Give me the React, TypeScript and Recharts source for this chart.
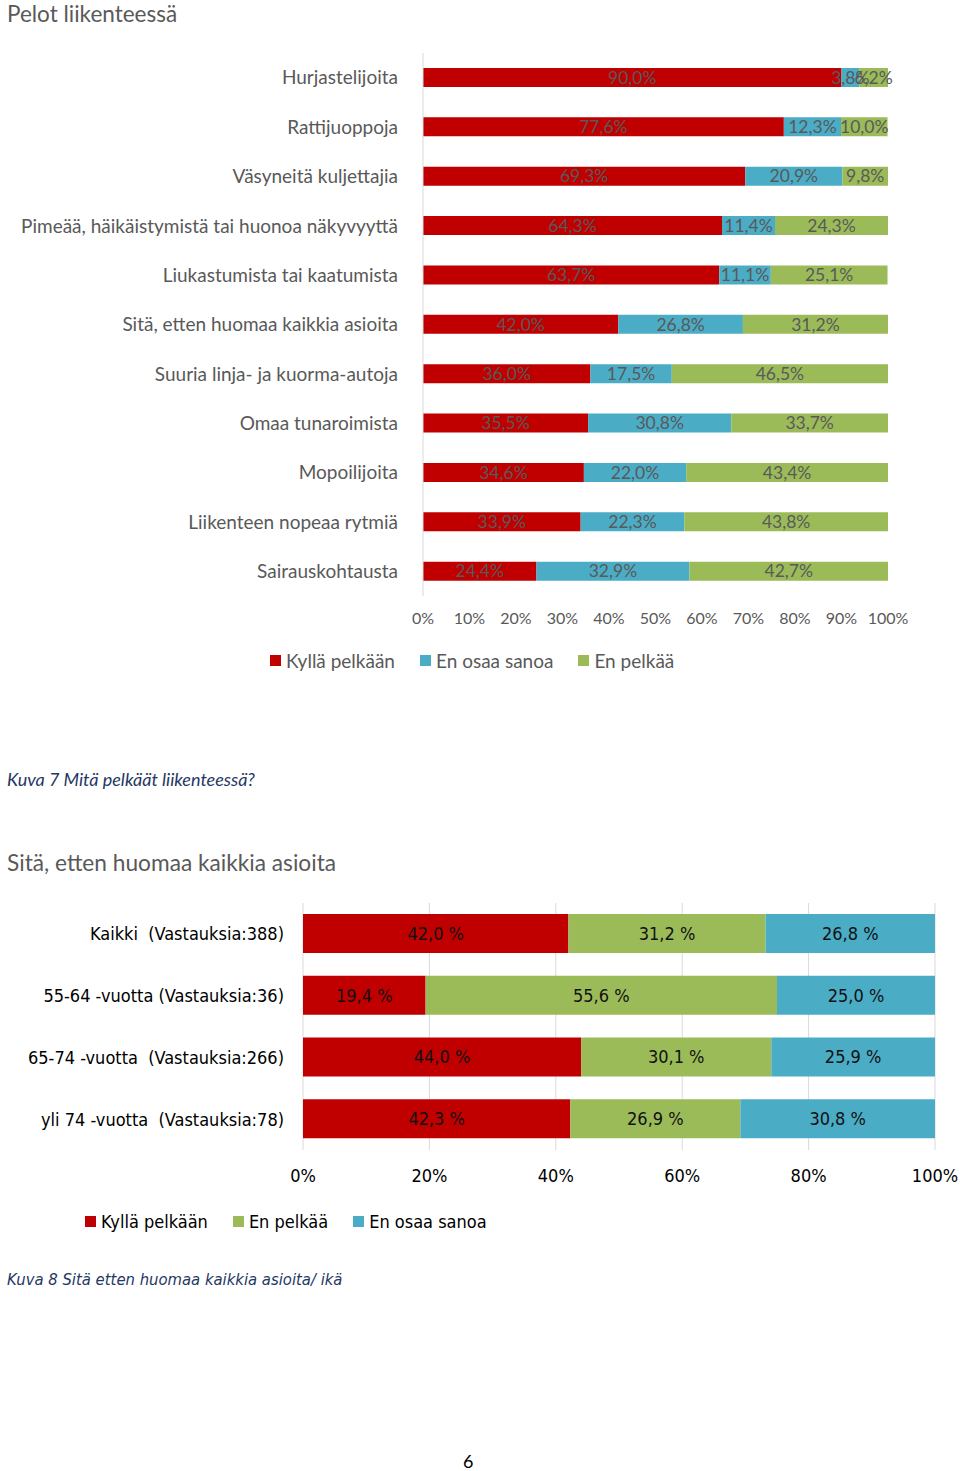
import React from 'react';
import { BarChart, Bar, XAxis, YAxis, CartesianGrid, LabelList, Legend } from 'recharts';

// ---- Chart 1 data: Pelot liikenteessä ----
const categories1 = [
  'Hurjastelijoita',
  'Rattijuoppoja',
  'Väsyneitä kuljettajia',
  'Pimeää, häikäistymistä tai huonoa näkyvyyttä',
  'Liukastumista tai kaatumista',
  'Sitä, etten huomaa kaikkia asioita',
  'Suuria linja- ja kuorma-autoja',
  'Omaa tunaroimista',
  'Mopoilijoita',
  'Liikenteen nopeaa rytmiä',
  'Sairauskohtausta',
];
const kylla1 = [90.0, 77.6, 69.3, 64.3, 63.7, 42.0, 36.0, 35.5, 34.6, 33.9, 24.4];
const enOsaa1 = [3.8, 12.3, 20.9, 11.4, 11.1, 26.8, 17.5, 30.8, 22.0, 22.3, 32.9];
const enPelkaa1 = [6.2, 10.0, 9.8, 24.3, 25.1, 31.2, 46.5, 33.7, 43.4, 43.8, 42.7];
const ticks1 = [0, 10, 20, 30, 40, 50, 60, 70, 80, 90, 100];

// ---- Chart 2 data: Sitä, etten huomaa kaikkia asioita / ikä ----
const categories2 = [
  'Kaikki\u00a0\u00a0(Vastauksia:388)',
  '55-64 -vuotta (Vastauksia:36)',
  '65-74 -vuotta\u00a0\u00a0(Vastauksia:266)',
  'yli 74 -vuotta\u00a0\u00a0(Vastauksia:78)',
];
const kylla2 = [42.0, 19.4, 44.0, 42.3];
const enPelkaa2 = [31.2, 55.6, 30.1, 26.9];
const enOsaa2 = [26.8, 25.0, 25.9, 30.8];
const ticks2 = [0, 20, 40, 60, 80, 100];

const seriesNames = { kylla: 'Kyllä pelkään', enOsaa: 'En osaa sanoa', enPelkaa: 'En pelkää' };

const data1 = categories1.map((name, i) => ({
  name,
  kylla: kylla1[i],
  enOsaa: enOsaa1[i],
  enPelkaa: enPelkaa1[i],
}));
const data2 = categories2.map((name, i) => ({
  name,
  kylla: kylla2[i],
  enPelkaa: enPelkaa2[i],
  enOsaa: enOsaa2[i],
}));

const RED = '#C00000';
const BLUE = '#4BACC6';
const GREEN = '#9BBB59';
const GRAY = '#595959';

const F1 = 'Lato, "Open Sans", sans-serif';
const F2 = '"Liberation Sans Narrow", "DejaVu Sans Condensed", Lato, sans-serif';

const fmt1 = (v: any) => Number(v).toFixed(1).replace('.', ',') + '%';
const fmt2 = (v: any) => Number(v).toFixed(1).replace('.', ',') + ' %';

const makeLegend = (fontFamily: string, fontSize: number, color: string, gap: number) => (props: any) => {
  const payload = props.payload || [];
  return (
    <div style={{ display: 'flex', alignItems: 'center', fontFamily, fontSize, color, whiteSpace: 'nowrap' }}>
      {payload.map((p: any) => (
        <div key={p.value} style={{ display: 'flex', alignItems: 'center', marginRight: gap }}>
          <span style={{ display: 'inline-block', width: 11, height: 11, background: p.color, marginRight: 5 }} />
          <span>{p.value}</span>
        </div>
      ))}
    </div>
  );
};

export default function App() {
  return (
    <div style={{ position: 'absolute', left: 0, top: 0, width: 960, height: 1471, background: '#fff', overflow: 'hidden' }}>
      <div style={{ position: 'absolute', left: 7, top: 0, fontFamily: F1, fontSize: 22.5, color: GRAY, lineHeight: '28px' }}>
        Pelot liikenteessä
      </div>

      <div style={{ position: 'absolute', left: 0, top: 0 }}>
        <BarChart
          width={960}
          height={700}
          data={data1}
          layout="vertical"
          margin={{ top: 53, right: 72, bottom: 74, left: 0 }}
        >
          <XAxis
            type="number"
            domain={[0, 100]}
            ticks={ticks1}
            tickFormatter={(v: any) => v + '%'}
            axisLine={false}
            tickLine={false}
            tickSize={0}
            tickMargin={17}
            height={30}
            interval={0}
            tick={{ fill: GRAY, fontSize: 16, fontFamily: F1 }}
          />
          <YAxis
            type="category"
            dataKey="name"
            width={423}
            axisLine={{ stroke: '#D9D9D9' }}
            tickLine={false}
            tickSize={0}
            tickMargin={25}
            interval={0}
            tick={{ fill: GRAY, fontSize: 19, fontFamily: F1 }}
          />
          <Legend
            layout="horizontal"
            verticalAlign="middle"
            itemSorter={null as any}
            wrapperStyle={{ top: 649, left: 270, width: 600 }}
            content={makeLegend(F1, 19, GRAY, 25)}
          />
          <Bar dataKey="kylla" name={seriesNames.kylla} stackId="a" fill={RED} barSize={19} isAnimationActive={false}>
            <LabelList dataKey="kylla" position="center" formatter={fmt1} fill={GRAY} fontSize={17.5} fontFamily={F1} />
          </Bar>
          <Bar dataKey="enOsaa" name={seriesNames.enOsaa} stackId="a" fill={BLUE} barSize={19} isAnimationActive={false}>
            <LabelList dataKey="enOsaa" position="center" formatter={fmt1} fill={GRAY} fontSize={17.5} fontFamily={F1} />
          </Bar>
          <Bar dataKey="enPelkaa" name={seriesNames.enPelkaa} stackId="a" fill={GREEN} barSize={19} isAnimationActive={false}>
            <LabelList dataKey="enPelkaa" position="center" formatter={fmt1} fill={GRAY} fontSize={17.5} fontFamily={F1} />
          </Bar>
        </BarChart>
      </div>

      <div style={{ position: 'absolute', left: 7, top: 768, fontFamily: F1, fontSize: 18, fontStyle: 'italic', color: '#1F3864', lineHeight: '22px' }}>
        Kuva 7 Mitä pelkäät liikenteessä?
      </div>

      <div style={{ position: 'absolute', left: 7, top: 848, fontFamily: F1, fontSize: 22.7, color: GRAY, lineHeight: '30px' }}>
        Sitä, etten huomaa kaikkia asioita
      </div>

      <div style={{ position: 'absolute', left: 0, top: 880 }}>
        <BarChart
          width={960}
          height={380}
          data={data2}
          layout="vertical"
          margin={{ top: 23, right: 25, bottom: 70, left: 0 }}
        >
          <CartesianGrid horizontal={false} stroke="#D9D9D9" />
          <XAxis
            type="number"
            domain={[0, 100]}
            ticks={ticks2}
            tickFormatter={(v: any) => v + '%'}
            axisLine={false}
            tickLine={false}
            tickSize={0}
            tickMargin={19}
            height={40}
            interval={0}
            tick={{ fill: '#000', fontSize: 18, fontFamily: F2 }}
          />
          <YAxis
            type="category"
            dataKey="name"
            width={303}
            axisLine={false}
            tickLine={false}
            tickSize={0}
            tickMargin={19}
            interval={0}
            tick={{ fill: '#000', fontSize: 18, fontFamily: F2 }}
          />
          <Legend
            layout="horizontal"
            verticalAlign="middle"
            itemSorter={null as any}
            wrapperStyle={{ top: 331, left: 85, width: 600 }}
            content={makeLegend(F2, 18, '#000', 25)}
          />
          <Bar dataKey="kylla" name={seriesNames.kylla} stackId="b" fill={RED} barSize={39} isAnimationActive={false}>
            <LabelList dataKey="kylla" position="center" formatter={fmt2} fill="#111" fontSize={18} fontFamily={F2} />
          </Bar>
          <Bar dataKey="enPelkaa" name={seriesNames.enPelkaa} stackId="b" fill={GREEN} barSize={39} isAnimationActive={false}>
            <LabelList dataKey="enPelkaa" position="center" formatter={fmt2} fill="#111" fontSize={18} fontFamily={F2} />
          </Bar>
          <Bar dataKey="enOsaa" name={seriesNames.enOsaa} stackId="b" fill={BLUE} barSize={39} isAnimationActive={false}>
            <LabelList dataKey="enOsaa" position="center" formatter={fmt2} fill="#111" fontSize={18} fontFamily={F2} />
          </Bar>
        </BarChart>
      </div>

      <div style={{ position: 'absolute', left: 7, top: 1269, fontFamily: F2, fontSize: 16.5, fontStyle: 'italic', color: '#1F3864', lineHeight: '22px' }}>
        Kuva 8 Sitä etten huomaa kaikkia asioita/ ikä
      </div>

      <div style={{ position: 'absolute', left: 463, top: 1451, fontFamily: F1, fontSize: 18, color: '#000', lineHeight: '20px' }}>
        6
      </div>
    </div>
  );
}
